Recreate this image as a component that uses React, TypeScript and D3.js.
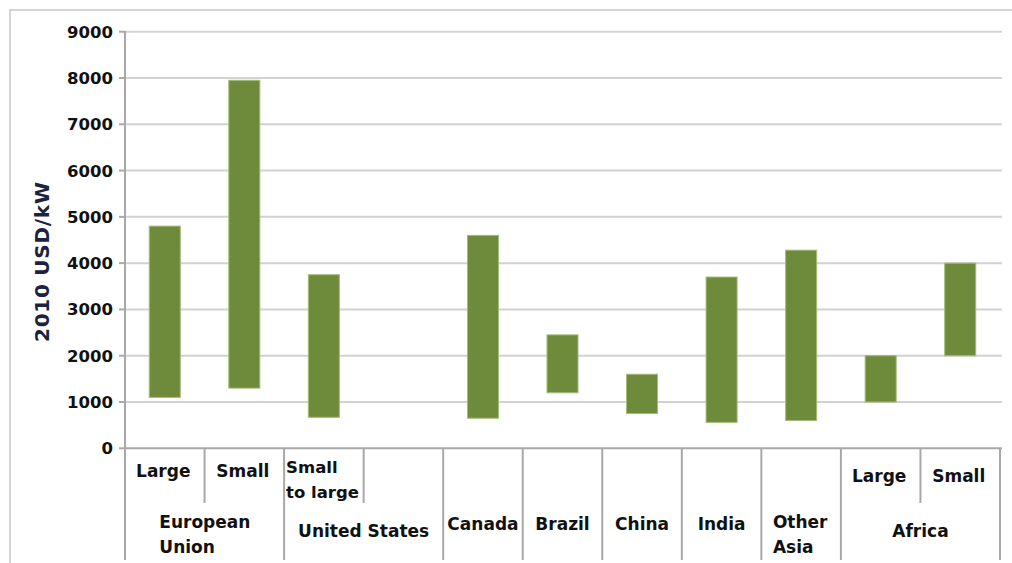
import React from "react";
import * as d3 from "d3";

// ---- data ----
const subLabels = ["Large", "Small", "Small\nto large", "", "", "", "", "", "", "Large", "Small"];
const groupNames = ["European\nUnion", "United States", "Canada", "Brazil", "China", "India", "Other\nAsia", "Africa"];
const groupSpans = [2, 2, 1, 1, 1, 1, 1, 2];
const lowValues = [1100, 1300, 670, null, 650, 1200, 750, 560, 600, 1000, 2000];
const highValues = [4800, 7950, 3750, null, 4600, 2450, 1600, 3700, 4280, 2000, 4000];
const yTicks = [0, 1000, 2000, 3000, 4000, 5000, 6000, 7000, 8000, 9000];
const yTitle = "2010 USD/kW";

const W = 1012;
const H = 563;
const FONT = "'DejaVu Sans', sans-serif";
const LBL = 17;

export default function App() {
  const idx = subLabels.map((_, i) => i);
  const x = d3.scaleBand<number>().domain(idx).range([125, 1000]).padding(0);
  const y = d3.scaleLinear().domain([0, 9000]).range([448.3, 31.7]);
  const step = x.step();
  const barW = step * 0.39;
  const axisY = y(0);
  const bottom = 560;
  const shortBottom = 503;

  const groupStarts: number[] = [];
  let acc = 0;
  groupSpans.forEach((s) => {
    groupStarts.push(acc);
    acc += s;
  });

  const separators: { xv: number; full: boolean }[] = [];
  for (let i = 0; i <= idx.length; i++) {
    const xv = 125 + i * step;
    const full = i === 0 || i === idx.length || groupStarts.includes(i);
    separators.push({ xv, full });
  }

  const textColor = "#111";

  return (
    <div style={{ position: "absolute", left: 0, top: 0 }}>
      <svg width={W} height={H} style={{ display: "block", background: "#fff" }}>
        <rect x={10} y={10} width={W + 20} height={H + 20} fill="none" stroke="#d4d4d4" strokeWidth={2} />

        {yTicks.filter((t) => t > 0).map((t) => (
          <line key={"g" + t} x1={125} x2={1002} y1={y(t)} y2={y(t)} stroke="#d2d2d2" strokeWidth={2} />
        ))}

        {yTicks.map((t) => (
          <g key={"t" + t}>
            <line x1={119} x2={125} y1={y(t)} y2={y(t)} stroke="#a8a8a8" strokeWidth={2} />
            <text
              x={113}
              y={y(t)}
              dy="0.36em"
              textAnchor="end"
              fontFamily={FONT}
              fontWeight="bold"
              fontSize={16.5}
              fill={textColor}
            >
              {t}
            </text>
          </g>
        ))}

        <text
          transform={`translate(49,262) rotate(-90)`}
          textAnchor="middle"
          fontFamily={FONT}
          fontWeight="bold"
          fontSize={20}
          fill="#1c2340"
          textLength={160}
          lengthAdjust="spacing"
        >
          {yTitle}
        </text>

        <line x1={125} x2={125} y1={31} y2={bottom} stroke="#a8a8a8" strokeWidth={2} />
        <line x1={125} x2={1002} y1={axisY} y2={axisY} stroke="#a8a8a8" strokeWidth={2} />
        {separators.map((s, i) => (
          <line
            key={"s" + i}
            x1={s.xv}
            x2={s.xv}
            y1={axisY}
            y2={s.full ? bottom : shortBottom}
            stroke="#a8a8a8"
            strokeWidth={2}
          />
        ))}

        {idx.map((i) => {
          const lo = lowValues[i];
          const hi = highValues[i];
          if (lo == null || hi == null) return null;
          const cx = (x(i) as number) + step / 2;
          return (
            <rect
              key={"b" + i}
              x={cx - barW / 2}
              y={y(hi)}
              width={barW}
              height={y(lo) - y(hi)}
              fill="#6e8a3b"
              stroke="#a3bb78"
              strokeWidth={1}
            />
          );
        })}

        {idx.map((i) => {
          const lbl = subLabels[i];
          if (!lbl) return null;
          const lines = lbl.split("\n");
          const x0 = x(i) as number;
          if (lines.length > 1) {
            return (
              <text key={"sl" + i} fontFamily={FONT} fontWeight="bold" fontSize={LBL - 0.5} fill={textColor}>
                {lines.map((ln, k) => (
                  <tspan key={k} x={x0 + 2} y={473 + k * 25}>
                    {ln}
                  </tspan>
                ))}
              </text>
            );
          }
          const inAfrica = i >= 9;
          return (
            <text
              key={"sl" + i}
              x={x0 + step / 2 - 1.5}
              y={inAfrica ? 482 : 477}
              textAnchor="middle"
              fontFamily={FONT}
              fontWeight="bold"
              fontSize={LBL}
              fill={textColor}
            >
              {lbl}
            </text>
          );
        })}

        {groupNames.map((g, gi) => {
          const start = groupStarts[gi];
          const span = groupSpans[gi];
          const x0 = 125 + start * step;
          const cx = x0 + (span * step) / 2;
          const lines = g.split("\n");
          const hasSub = span > 1;
          if (lines.length > 1) {
            const maxLen = Math.max(...lines.map((l) => l.length));
            const blockW = maxLen * 11.3;
            return (
              <text key={"gl" + gi} fontFamily={FONT} fontWeight="bold" fontSize={LBL} fill={textColor}>
                {lines.map((ln, k) => (
                  <tspan key={k} x={cx - blockW / 2} y={528 + k * 25}>
                    {ln}
                  </tspan>
                ))}
              </text>
            );
          }
          return (
            <text
              key={"gl" + gi}
              x={cx}
              y={hasSub ? 537 : 530}
              textAnchor="middle"
              fontFamily={FONT}
              fontWeight="bold"
              fontSize={LBL}
              fill={textColor}
            >
              {g}
            </text>
          );
        })}
      </svg>
    </div>
  );
}
